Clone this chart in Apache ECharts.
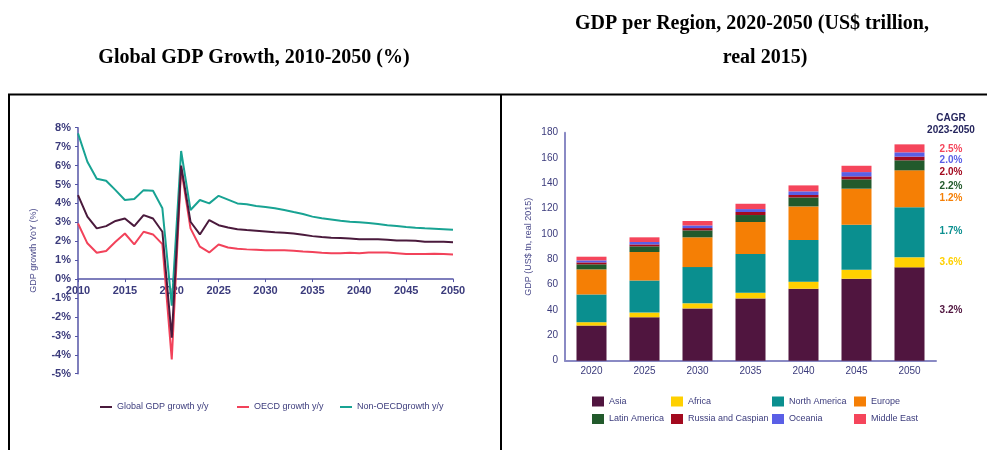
<!DOCTYPE html>
<html>
<head>
<meta charset="utf-8">
<script src="https://cdn.jsdelivr.net/npm/echarts@6/dist/echarts.min.js"></script>
<style>
html,body{margin:0;padding:0;background:#fff;}
#c{width:987px;height:450px;}
</style>
</head>
<body>
<div id="c"></div>
<script>
// ---------- Data: left chart (GDP growth, %) ----------
const years = [];
for (let y = 2010; y <= 2050; y++) years.push(y);
const globalGrowth = [4.44,3.3,2.68,2.8,3.07,3.2,2.8,3.38,3.2,2.5,-3.1,6.0,3.03,2.36,3.12,2.85,2.73,2.63,2.59,2.56,2.52,2.48,2.45,2.41,2.34,2.27,2.22,2.18,2.17,2.15,2.11,2.11,2.1,2.08,2.04,2.04,2.03,1.97,1.97,1.97,1.95];
const oecdGrowth = [2.94,1.89,1.39,1.48,1.97,2.41,1.83,2.5,2.36,1.85,-4.25,5.85,2.68,1.71,1.41,1.83,1.67,1.6,1.57,1.55,1.52,1.52,1.53,1.5,1.46,1.43,1.39,1.36,1.37,1.39,1.37,1.41,1.41,1.41,1.37,1.32,1.32,1.32,1.34,1.32,1.3];
const nonOecdGrowth = [7.7,6.2,5.3,5.2,4.7,4.18,4.23,4.7,4.67,3.74,-1.4,6.77,3.65,4.18,4.0,4.4,4.2,4.0,3.95,3.86,3.81,3.74,3.65,3.54,3.44,3.3,3.21,3.15,3.08,3.03,3.0,2.96,2.91,2.85,2.8,2.75,2.71,2.68,2.66,2.64,2.61];
const lineNames = ['Global GDP growth y/y','OECD growth y/y','Non-OECDgrowth y/y'];

// ---------- Data: right chart (GDP per region, US$ tn) ----------
const periods = ['2020','2025','2030','2035','2040','2045','2050'];
const regionNames = ['Asia','Africa','North America','Europe','Latin America','Russia and Caspian','Oceania','Middle East'];
const asia         = [27.7,34.3,41.3,49.2,56.8,64.7,73.7];
const africa       = [2.7,3.7,4.0,4.5,5.6,7.1,7.9];
const northAmerica = [21.9,25.3,28.6,30.5,32.9,35.6,39.5];
const europe       = [19.8,22.5,23.5,25.3,26.5,28.4,29.2];
const latinAmerica = [4.0,4.5,5.5,5.5,7.1,7.4,7.9];
const russiaCaspian= [1.5,1.5,1.8,2.4,1.9,2.3,2.9];
const oceania      = [1.6,1.9,2.1,2.3,2.9,3.4,3.4];
const middleEast   = [2.9,3.7,3.5,4.2,4.7,5.0,6.3];
const cagrHeader = ['CAGR','2023-2050'];
// CAGR labels, top to bottom: Middle East, Oceania, Russia, Latin America, Europe, North America, Africa, Asia
const cagrLabels = ['2.5%','2.0%','2.0%','2.2%','1.2%','1.7%','3.6%','3.2%'];

// ---------- Styles ----------
const lineColors = ['#4a1a3c','#f2425a','#18a393'];
const regionColors = ['#50153f','#ffd000','#0a8f8f','#f57f05','#225a2c','#a30a1f','#5a5fe6','#f5455b'];
const cagrColors = ['#f5455b','#5a5fe6','#a30a1f','#225a2c','#f57f05','#0a8f8f','#ffd000','#50153f'];
const cagrY = [149,160,172.5,186.5,198.5,231,262,310];
const navy = '#3b3b7c';
const font = 'Liberation Sans, Arial, sans-serif';

const regionData = [asia, africa, northAmerica, europe, latinAmerica, russiaCaspian, oceania, middleEast];
const lineData = [globalGrowth, oecdGrowth, nonOecdGrowth];

const chart = echarts.init(document.getElementById('c'), null, {renderer:'canvas'});

const series = [];
lineData.forEach((arr, i) => {
  series.push({
    name: lineNames[i], type: 'line', xAxisIndex: 0, yAxisIndex: 0,
    data: years.map((y, k) => [y, arr[k]]),
    showSymbol: false, symbol: 'none',
    lineStyle: {color: lineColors[i], width: 2},
    itemStyle: {color: lineColors[i]},
    z: 3 - i
  });
});
regionData.forEach((arr, i) => {
  series.push({
    name: regionNames[i], type: 'bar', stack: 'gdp', xAxisIndex: 1, yAxisIndex: 1,
    data: arr, barWidth: 30,
    itemStyle: {color: regionColors[i]}
  });
});

// legends
const legends = [];
const lineLegendLeft = [95, 232, 335];
lineNames.forEach((n, i) => {
  legends.push({
    data: [n], left: lineLegendLeft[i], top: 397.5, icon: 'rect',
    itemWidth: 12, itemHeight: 2, itemGap: 6, selectedMode: false,
    textStyle: {fontFamily: font, fontSize: 9, color: navy}
  });
});
const colLeft = [587, 666, 767, 849];
regionNames.forEach((n, i) => {
  const col = i % 4, row = Math.floor(i / 4);
  legends.push({
    data: [n], left: colLeft[col], top: row === 0 ? 391.5 : 409, icon: 'rect',
    itemWidth: 12, itemHeight: 10, itemGap: 6, selectedMode: false,
    textStyle: {fontFamily: font, fontSize: 9, color: navy}
  });
});

// graphics: titles, table borders, CAGR annotations
const titleFont = 'bold 20px "Liberation Serif", "Times New Roman", serif';
const graphics = [
  {type:'text', style:{text:'Global GDP Growth, 2010-2050 (%)', font:titleFont, fill:'#000', textAlign:'center', textVerticalAlign:'middle', x:254, y:58}},
  {type:'text', style:{text:'GDP per Region, 2020-2050 (US$ trillion,', font:titleFont, fill:'#000', textAlign:'center', textVerticalAlign:'middle', x:752, y:24}},
  {type:'text', style:{text:'real 2015)', font:titleFont, fill:'#000', textAlign:'center', textVerticalAlign:'middle', x:765, y:58}},
  {type:'line', shape:{x1:8, y1:94.5, x2:987, y2:94.5}, style:{stroke:'#000', lineWidth:2}},
  {type:'line', shape:{x1:9, y1:94, x2:9, y2:450}, style:{stroke:'#000', lineWidth:2}},
  {type:'line', shape:{x1:501, y1:94, x2:501, y2:450}, style:{stroke:'#000', lineWidth:2}},
  {type:'text', style:{text:cagrHeader[0], font:'bold 10px "Liberation Sans", Arial, sans-serif', fill:'#26265e', textAlign:'center', textVerticalAlign:'middle', x:951, y:118}},
  {type:'text', style:{text:cagrHeader[1], font:'bold 10px "Liberation Sans", Arial, sans-serif', fill:'#26265e', textAlign:'center', textVerticalAlign:'middle', x:951, y:130}}
];
cagrLabels.forEach((t, i) => {
  graphics.push({type:'text', style:{text:t, font:'bold 10px "Liberation Sans", Arial, sans-serif', fill:cagrColors[i], textAlign:'center', textVerticalAlign:'middle', x:951, y:cagrY[i]}});
});

const yearLabel = v => String(v);

chart.setOption({
  animation: false,
  backgroundColor: '#fff',
  grid: [
    {left: 78, right: 534, top: 127.7, bottom: 76.3},
    {left: 565, right: 51, top: 132.7, bottom: 89.3},
    // overlay grid whose bottom edge is the 0% line of the left chart (carries the year labels)
    {left: 78, right: 534, top: 127.7, bottom: 171}
  ],
  xAxis: [
    {
      type: 'value', gridIndex: 0, min: 2010, max: 2050, interval: 5,
      axisLine: {onZero: true, lineStyle: {color: '#5454a6', width: 1.5}},
      axisTick: {show: true, length: 3, lineStyle: {color: '#5454a6'}},
      axisLabel: {show: false},
      splitLine: {show: false}
    },
    {
      type: 'category', gridIndex: 1, data: periods,
      axisLine: {lineStyle: {color: '#8a8ac4', width: 2}},
      axisTick: {show: false},
      axisLabel: {fontFamily: font, fontSize: 10, color: navy, margin: 6},
      splitLine: {show: false}
    },
    {
      type: 'value', gridIndex: 2, min: 2010, max: 2050, interval: 5,
      axisLine: {show: false}, axisTick: {show: false},
      axisLabel: {fontFamily: font, fontSize: 11, fontWeight: 'bold', color: navy, margin: 6, formatter: yearLabel},
      splitLine: {show: false}
    }
  ],
  yAxis: [
    {
      type: 'value', gridIndex: 0, min: -5, max: 8, interval: 1,
      name: 'GDP growth YoY (%)', nameLocation: 'middle', nameGap: 40, nameRotate: 90,
      nameTextStyle: {fontFamily: font, fontSize: 9, color: '#4a4a8a'},
      axisLine: {show: true, lineStyle: {color: '#5454a6', width: 1.5}},
      axisTick: {show: true, length: 3, lineStyle: {color: '#5454a6'}},
      axisLabel: {fontFamily: font, fontSize: 11, fontWeight: 'bold', color: navy, margin: 7, formatter: '{value}%'},
      splitLine: {show: false}
    },
    {
      type: 'value', gridIndex: 1, min: 0, max: 180, interval: 20,
      name: 'GDP (US$ tn, real 2015)', nameLocation: 'middle', nameGap: 32, nameRotate: 90,
      nameTextStyle: {fontFamily: font, fontSize: 9, color: '#4a4a8a'},
      axisLine: {show: true, lineStyle: {color: '#8a8ac4', width: 2}},
      axisTick: {show: false},
      axisLabel: {fontFamily: font, fontSize: 10, color: navy, margin: 7},
      splitLine: {show: false}
    },
    {
      type: 'value', gridIndex: 2, min: 0, max: 8, show: false
    }
  ],
  legend: legends,
  graphic: graphics,
  series: series
});
</script>
</body>
</html>
